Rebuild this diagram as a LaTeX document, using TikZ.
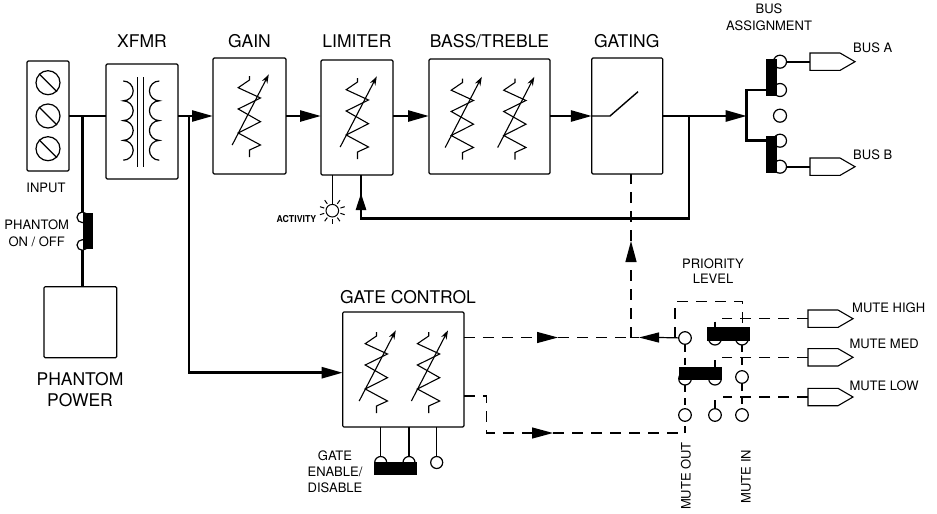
\documentclass[tikz,border=0pt]{standalone}
\usepackage{fontspec}
\setmainfont{TeX Gyre Heros}
\usetikzlibrary{arrows.meta,calc}
\tikzset{
  resist/.pic={
    \draw[line width=1.1pt,line join=miter] (0,-40) -- (0,-36) -- (-11.3,-28.3) -- (11,-18) -- (-11.3,-7) -- (11,5.7) -- (-11.3,17) -- (11,29) -- (0,34) -- (0,41);
    \draw[line width=1.1pt,-{Stealth[length=9pt,width=6pt]}] (-17.3,29) -- (19.3,-41.7);
  },
  jack/.pic={
    \draw[line width=1.1pt,fill=white] (0,-8.7) -- (30,-8.7) -- (45,0) -- (30,8.7) -- (0,8.7) -- cycle;
    \coordinate (-w) at (0,0);
  }
}
\begin{document}
\begin{tikzpicture}[x=1pt,y=-1pt,
  blk/.style={draw,line width=1.2pt,rounded corners=1.2pt,inner sep=0pt,outer sep=0pt,fill=white},
  sig/.style={line width=2.6pt},
  thinl/.style={line width=1.2pt},
  dsh/.style={line width=1.2pt,dash pattern=on 11pt off 8pt},
  sdsh/.style={line width=1.2pt,dash pattern=on 7pt off 6pt},
  tip/.style={-{Triangle[length=21pt,width=11pt]}},
  hd/.style={font=\fontsize{17.5}{20}\selectfont,anchor=base,inner sep=0pt},
  sm/.style={font=\fontsize{13}{15}\selectfont,anchor=base,inner sep=0pt},
  sw/.style={circle,draw,fill=white,line width=1.2pt,minimum size=12.6pt,inner sep=0pt,outer sep=0pt},
  bar/.style={rectangle,fill=black,draw=none,inner sep=0pt,outer sep=0pt}
]
\path[use as bounding box] (0,0) rectangle (937,514);

% ---------- blocks ----------
\node[blk,minimum width=42pt,minimum height=110pt] (input) at (48,116) {};
\node[blk,minimum width=72pt,minimum height=115pt] (xfmr) at (142,121.5) {};
\node[blk,minimum width=73pt,minimum height=116pt] (gain) at (249.5,116) {};
\node[blk,minimum width=72pt,minimum height=115pt] (lim) at (357,117.5) {};
\node[blk,minimum width=121pt,minimum height=115pt] (bass) at (489.5,116.5) {};
\node[blk,minimum width=71pt,minimum height=116pt] (gating) at (627.3,116) {};
\node[blk,minimum width=72.7pt,minimum height=71pt] (phantom) at (80.3,322.2) {};
\node[blk,minimum width=121.3pt,minimum height=115pt] (gc) at (403.3,369.5) {};

% ---------- labels ----------
\node[hd] (lxf) at (142,47.5) {XFMR};
\node[hd] (lga) at (249.5,47.5) {GAIN};
\node[hd] (lli) at (357,47.5) {LIMITER};
\node[hd] (lbt) at (489.5,47.5) {BASS/TREBLE};
\node[hd] (lgt) at (626.7,47.5) {GATING};
\node[hd] (lgc) at (408,303.3) {GATE CONTROL};
\node[hd] (lpp1) at (80,385) {PHANTOM};
\node[hd] (lpp2) at (80,406.7) {POWER};
\node[sm] (lin) at (46,192.7) {INPUT};
\node[sm] (lph1) at (36.7,229.3) {PHANTOM};
\node[sm] (lph2) at (36.7,246) {ON / OFF};
\node[sm] (lba1) at (769,13.3) {BUS};
\node[sm] (lba2) at (769,30) {ASSIGNMENT};
\node[sm,anchor=base west] (lbA) at (853,52.7) {BUS A};
\node[sm,anchor=base west] (lbB) at (853,159.3) {BUS B};
\node[sm] (lpl1) at (713,268.3) {PRIORITY};
\node[sm] (lpl2) at (713,283.3) {LEVEL};
\node[sm,anchor=base west] (lmh) at (852,312.7) {MUTE HIGH};
\node[sm,anchor=base west] (lmm) at (849.3,348.3) {MUTE MED};
\node[sm,anchor=base west] (lml) at (849.3,390) {MUTE LOW};
\node[sm] (lge1) at (335,460) {GATE};
\node[sm] (lge2) at (335,476.7) {ENABLE/};
\node[sm] (lge3) at (335,492.7) {DISABLE};
\node[font=\fontsize{13}{15}\selectfont,inner sep=0pt,rotate=90] (lmo) at (686,476) {MUTE OUT};
\node[font=\fontsize{13}{15}\selectfont,inner sep=0pt,rotate=90] (lmi) at (746,476.5) {MUTE IN};
\node[font=\bfseries\fontsize{9.5}{11}\selectfont,anchor=base east,inner sep=0pt,xscale=0.92] (lact) at (316.5,222.7) {ACTIVITY};

% ---------- input terminals ----------
\foreach \yy/\nm in {82.7/t1,116/t2,148.7/t3}{
  \node[circle,draw,line width=1.2pt,minimum size=24pt,inner sep=0pt] (\nm) at (48,\yy) {};
  \draw[line width=1.2pt] (\nm.north west) -- (\nm.south east);
}

% ---------- transformer ----------
\draw[thinl] (137.3,77) -- (137.3,167);
\draw[thinl] (143.3,77) -- (143.3,167);
\draw[thinl] (123.3,81) arc (-90:90:9.9) arc (-90:90:9.9) arc (-90:90:9.9) arc (-90:90:9.9);
\draw[thinl] (159.3,81) arc (270:90:9.9) arc (270:90:9.9) arc (270:90:9.9) arc (270:90:9.9);

% ---------- resistors ----------
\pic at (249.5,116) {resist};
\pic at (357.5,118) {resist};
\pic at (462.5,118.5) {resist};
\pic at (515,118.5) {resist};
\pic at (376.5,372) {resist};
\pic at (428.7,372) {resist};

% ---------- gating switch ----------
\coordinate (yline) at (0,116);
\coordinate (gsw1) at (610,116);
\coordinate (gsw2) at (638,91.7);
\draw[line width=1.4pt] (gating.west |- yline) -- (gsw1) -- (gsw2);

% ---------- main signal path ----------
\coordinate (jph) at (82.7,116);
\coordinate (jgc) at (189,116);
\coordinate (gcin) at (342.7,372.7);
\draw[sig] (input.east |- yline) -- (xfmr.west |- yline);
\draw[sig,tip] (xfmr.east |- yline) -- (gain.west |- yline);
\draw[sig,tip] (gain.east |- yline) -- (lim.west |- yline);
\draw[sig,tip] (lim.east |- yline) -- (bass.west |- yline);
\draw[sig,tip] (bass.east |- yline) -- (gating.west |- yline);
\coordinate (bra) at (746.7,116);
\draw[sig,tip] (gating.east |- yline) -- (bra);
\draw[sig,tip] (jgc) |- (gcin);

% ---------- feedback to limiter ----------
\coordinate (fbr) at (689,116);
\coordinate (fbc) at (689,218.3);
\coordinate (fbl) at (361,218.3);
\coordinate (fbtip) at (361,193);
\draw[sig] (fbr) -- (fbc) -- (fbl) -- (fbl |- lim.south);
\draw[sig,-{Triangle[length=17pt,width=10pt]}] (fbl) -- (fbtip);

% ---------- activity lamp ----------
\node[circle,draw,line width=1pt,minimum size=12.6pt,inner sep=0pt] (sun) at (332.3,210.7) {};
\foreach \a in {0,36,...,324} \draw[line width=1pt] ($(sun.center)+(\a+90:8.5)$) -- ($(sun.center)+(\a+90:13)$);
\draw[line width=1pt] (sun.north |- lim.south) -- (sun.north);

% ---------- phantom ----------
\node[sw,minimum size=10.6pt] (ph1) at (82.3,217.3) {};
\node[sw,minimum size=10.6pt] (ph2) at (82.3,245) {};
\draw[sig] (jph) -- (jph |- ph1.north);
\draw[sig] (ph2.south) -- (ph2.south |- phantom.north);
\node[bar,minimum width=9.4pt,minimum height=36pt] (phbar) at (88,231.3) {};

% ---------- bus assignment ----------
\node[sw,minimum size=13pt] (b1) at (780,61.7) {};
\node[sw,minimum size=13pt] (b2) at (780,90) {};
\node[sw,minimum size=13pt] (b3) at (780,115.7) {};
\node[sw,minimum size=13pt] (b4) at (780,140.7) {};
\node[sw,minimum size=13pt] (b5) at (780,166.7) {};
\draw[sig] (b2.west) -- (b2 -| bra) -- (b4 -| bra) -- (b4.west);
\pic (ja) at (810,61.7) {jack};
\pic (jbB) at (810,166.7) {jack};
\draw[line width=2pt] (b1.east) -- (ja-w);
\draw[line width=2pt] (b5.east) -- (jbB-w);
\node[bar,minimum width=10.7pt,minimum height=36.7pt] (bbar1) at (771.3,77.3) {};
\node[bar,minimum width=10.7pt,minimum height=36.7pt] (bbar2) at (771.3,154.3) {};

% ---------- gate enable switch ----------
\node[sw,minimum size=12pt] (g1) at (380.7,462.5) {};
\node[sw,minimum size=12pt] (g2) at (409,462.5) {};
\node[sw,minimum size=12pt] (g3) at (436.7,462.5) {};
\draw[thinl] (g1 |- gc.south) -- (g1.north);
\draw[thinl] (g2 |- gc.south) -- (g2.north);
\draw[thinl] (g3 |- gc.south) -- (g3.north);
\node[bar,minimum width=42.7pt,minimum height=13.3pt] (gbar) at (395.3,468.3) {};

% ---------- priority switch ----------
\coordinate (p11c) at (685,338);
\pic (mh) at (808,318.7) {jack};
\pic (mm) at (808,357.3) {jack};
\pic (ml) at (808,397) {jack};
\coordinate (j1) at (631,337.5);
\coordinate (tipL) at (639,337.5);
\coordinate (tipR) at (558,337.5);
\coordinate (tipU) at (631,241);
\coordinate (pj) at (675,337.5);
\coordinate (pr1) at (675,301.7);
\coordinate (pr2) at (742.5,301.7);
\coordinate (gb1) at (486.7,396);
\coordinate (gb2) at (486.7,433);
\coordinate (tipB) at (553,433);
\coordinate (jb) at (685,433);

\draw[dsh,tip] (gc.east |- j1) -- (tipR);
\draw[dsh] (tipR) -- (j1);
\draw[dsh,tip] (j1) -- (tipU);
\draw[dsh] (tipU) -- (tipU |- gating.south);
\draw[line width=1.2pt] (p11c) -- (659,337.5);
\draw[line width=1.2pt,-{Triangle[length=20pt,width=10pt]}] (659,337.5) -- (tipL);
\draw[dsh] (tipL) -- (j1);
\draw[dsh] (pj) -- (pr1) -- (pr2) -- (742.5,327);
\draw[dsh,tip] (gc.east |- gb1) -- (gb1) -- (gb2) -- (tipB);
\draw[dsh] (tipB) -- (jb);
\draw[sdsh] (jb) -- (685,421);
\draw[sdsh] (685,344.5) -- (685,367);
\draw[sdsh] (685,385) -- (685,409);
\draw[sdsh] (742,345) -- (742,370.5);
\draw[sdsh] (742,383.5) -- (742,409);
\draw[dsh] (mh-w) -- (721.7,318.7);
\draw[line width=1.2pt] (715,321.7) -- (715,327.3);
\draw[dsh] (mm-w) -- (721.7,357.3);
\draw[line width=1.2pt] (715,360) -- (715,366.7);
\draw[dsh] (ml-w) -- (723,397);
\draw[line width=1.2pt] (715,400) -- (715,409);

\node[sw] (p11) at (685,338) {};
\node[sw] (p12) at (715,338.7) {};
\node[sw] (p13) at (742,338.7) {};
\node[sw] (p21) at (685,378.7) {};
\node[sw] (p22) at (715,378.7) {};
\node[sw] (p23) at (742,377) {};
\node[sw] (p31) at (685,415) {};
\node[sw] (p32) at (715,415) {};
\node[sw] (p33) at (742,415) {};
\node[bar,minimum width=42.7pt,minimum height=13.4pt] (pbar1) at (728.7,334) {};
\node[bar,minimum width=42.4pt,minimum height=13.3pt] (pbar2) at (700.5,373.3) {};
\end{tikzpicture}
\end{document}
